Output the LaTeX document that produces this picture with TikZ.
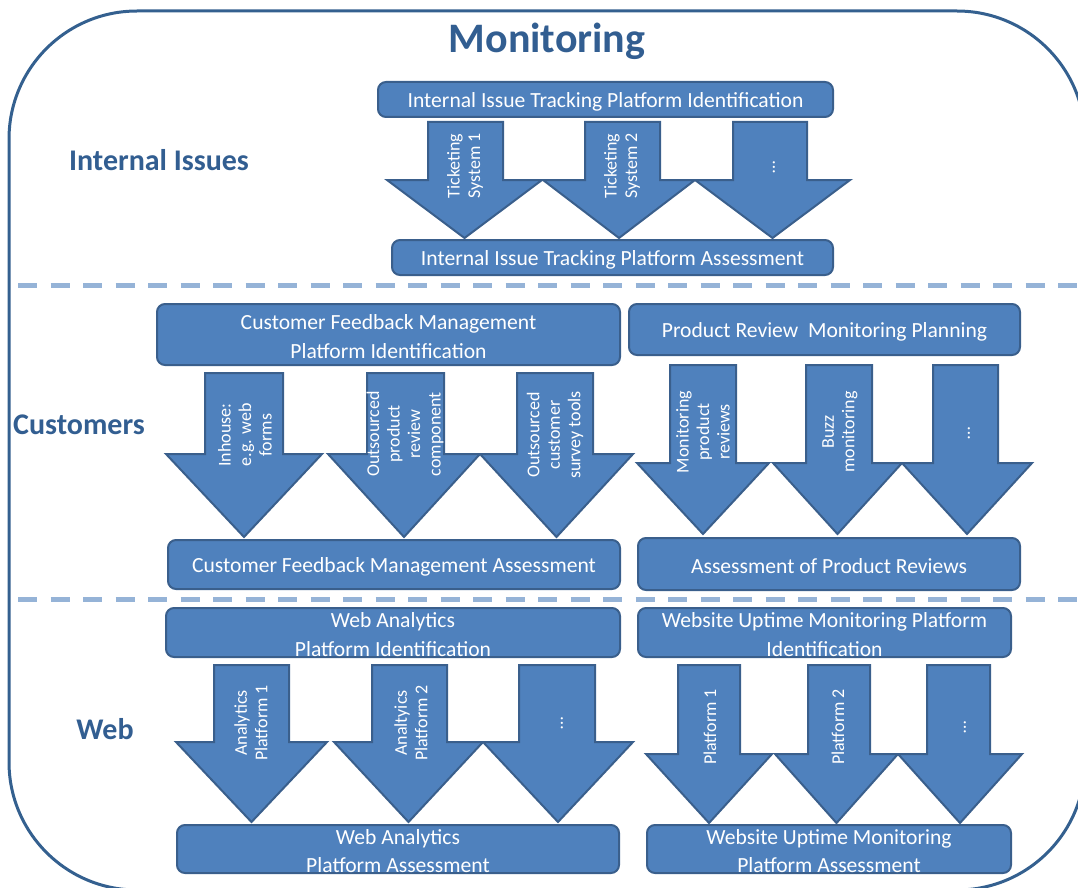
\documentclass[tikz,border=0pt]{standalone}
\usepackage{fontspec}
\setmainfont{Carlito}
\definecolor{boxfill}{HTML}{4F81BD}
\definecolor{boxline}{HTML}{3A5F8C}
\definecolor{titleblue}{HTML}{325E91}
\definecolor{dashblue}{HTML}{95B3D7}
\definecolor{framecol}{HTML}{34608F}
\tikzset{
 box/.style={draw=boxline, fill=boxfill, line width=2pt, rounded corners=8pt, text=white, align=center, inner sep=0pt, font=\fontsize{21.6}{28.5}\selectfont},
 boxtext/.style={text=white, align=center, inner sep=0pt, font=\fontsize{21.6}{28.5}\selectfont, yshift=-2pt},
 arrowshape/.style={draw=boxline, fill=boxfill, line width=2pt, line join=miter},
 arrowtext/.style={rotate=90, text=white, align=center, inner sep=0pt, font=\fontsize{18}{20.5}\selectfont},
 sectionlabel/.style={text=titleblue, inner sep=0pt, font=\fontsize{30}{36}\selectfont\bfseries},
 sepline/.style={draw=dashblue, line width=5pt, dash pattern=on 19pt off 13.5pt},
 frameline/.style={draw=framecol, line width=3pt, rounded corners=128pt}
}
% shaftL shaftR headL headR top headY tipY
\newcommand{\DownArr}[7]{%
 \draw[arrowshape] (#1,#5) -- (#2,#5) -- (#2,#6) -- (#4,#6) -- ({(#3+#4)/2},#7) -- (#3,#6) -- (#1,#6) -- cycle;}
\begin{document}
\begin{tikzpicture}[x=1pt,y=-1pt]
\useasboundingbox (0,0) rectangle (1078,888);
\clip (0,0) rectangle (1078,888);
\draw[frameline] (9,11) rectangle (1085,890);
\node[text=titleblue, inner sep=0pt, font=\fontsize{42}{50}\selectfont\bfseries] (title) at (547,41) {Monitoring};
\draw[sepline] (18,285) -- (1078,285);
\draw[sepline] (18,599) -- (1078,599);
% section labels
\node[sectionlabel] (lint) at (159,160) {Internal Issues};
\node[sectionlabel] (lcus) at (79,425) {Customers};
\node[sectionlabel] (lweb) at (105,729) {Web};
% ---- Internal issues
\DownArr{428}{503}{387}{542}{122}{180}{238}
\DownArr{585}{660}{543}{695}{122}{180}{238}
\DownArr{733}{807}{695}{850}{122}{180}{238}
\node[box, minimum width=455pt, minimum height=35pt] (iid) at (605.5,99.5) {};
\node[boxtext] (iidt) at (iid) {Internal Issue Tracking Platform Identification};
\node[box, minimum width=441pt, minimum height=35pt] (ias) at (612.5,257.5) {};
\node[boxtext] (iast) at (ias) {Internal Issue Tracking Platform Assessment};
\node[arrowtext] (it1) at (465,166) {Ticketing\\System 1};
\node[arrowtext] (it2) at (622,166) {Ticketing\\System 2};
\node[arrowtext] (it3) at (774,167) {…};
% ---- Customers left
\DownArr{205}{283}{166}{322}{373}{454}{537}
\DownArr{367}{444}{328}{480}{373}{454}{537}
\DownArr{517}{593}{480}{633}{373}{454}{537}
\node[box, minimum width=463pt, minimum height=61pt] (cfid) at (388.5,334.5) {};
\node[boxtext] (cfidt) at (cfid) {Customer Feedback Management\\Platform Identification};
\node[box, minimum width=452pt, minimum height=49pt] (cfas) at (394,564.5) {};
\node[boxtext] (cfast) at (cfas) {Customer Feedback Management Assessment};
\node[arrowtext] (cf1) at (245,435) {Inhouse:\\e.g. web\\forms};
\node[arrowtext] (cf2) at (405,434) {Outsourced\\product\\review\\component};
\node[arrowtext] (cf3) at (555,435) {Outsourced\\customer\\survey tools};
% ---- Customers right
\DownArr{670}{736}{637}{769}{365}{463}{534}
\DownArr{806}{872}{773}{902}{365}{463}{534}
\DownArr{933}{998}{902}{1032}{365}{463}{534}
\node[box, minimum width=391pt, minimum height=51pt] (prid) at (824.5,329.5) {};
\node[boxtext] (pridt) at (prid) {Product Review\ \ Monitoring Planning};
\node[box, minimum width=382pt, minimum height=52pt] (pras) at (829,564) {};
\node[boxtext] (prast) at (pras) {Assessment of Product Reviews};
\node[arrowtext] (pr1) at (703,432) {Monitoring\\product\\reviews};
\node[arrowtext] (pr2) at (840,432) {Buzz\\monitoring};
\node[arrowtext] (pr3) at (969,433) {…};
% ---- Web left
\DownArr{214}{289}{176}{327}{665}{742}{822}
\DownArr{372}{447}{334}{483}{665}{742}{822}
\DownArr{519}{595}{483}{633}{665}{742}{822}
\node[box, minimum width=454pt, minimum height=49pt] (waid) at (393,632.5) {};
\node[boxtext] (waidt) at (waid) {Web Analytics\\Platform Identification};
\node[box, minimum width=442pt, minimum height=48pt] (waas) at (398,849) {};
\node[boxtext] (waast) at (waas) {Web Analytics\\Platform Assessment};
\node[arrowtext] (wa1) at (251,723) {Analytics\\Platform 1};
\node[arrowtext] (wa2) at (411,723) {Analtyics\\Platform 2};
\node[arrowtext] (wa3) at (562,723) {…};
% ---- Web right
\DownArr{678}{740}{646}{772}{665}{754}{823}
\DownArr{808}{870}{775}{898}{665}{754}{823}
\DownArr{927}{990}{898}{1022}{665}{754}{823}
\node[box, minimum width=373pt, minimum height=49pt] (wuid) at (824.5,632.5) {};
\node[boxtext] (wuidt) at (wuid) {Website Uptime Monitoring Platform\\Identification};
\node[box, minimum width=364pt, minimum height=48pt] (wuas) at (829,849) {};
\node[boxtext] (wuast) at (wuas) {Website Uptime Monitoring\\Platform Assessment};
\node[arrowtext] (wu1) at (710,727) {Platform 1};
\node[arrowtext] (wu2) at (838,727) {Platform 2};
\node[arrowtext] (wu3) at (965,727) {…};
\end{tikzpicture}
\end{document}
